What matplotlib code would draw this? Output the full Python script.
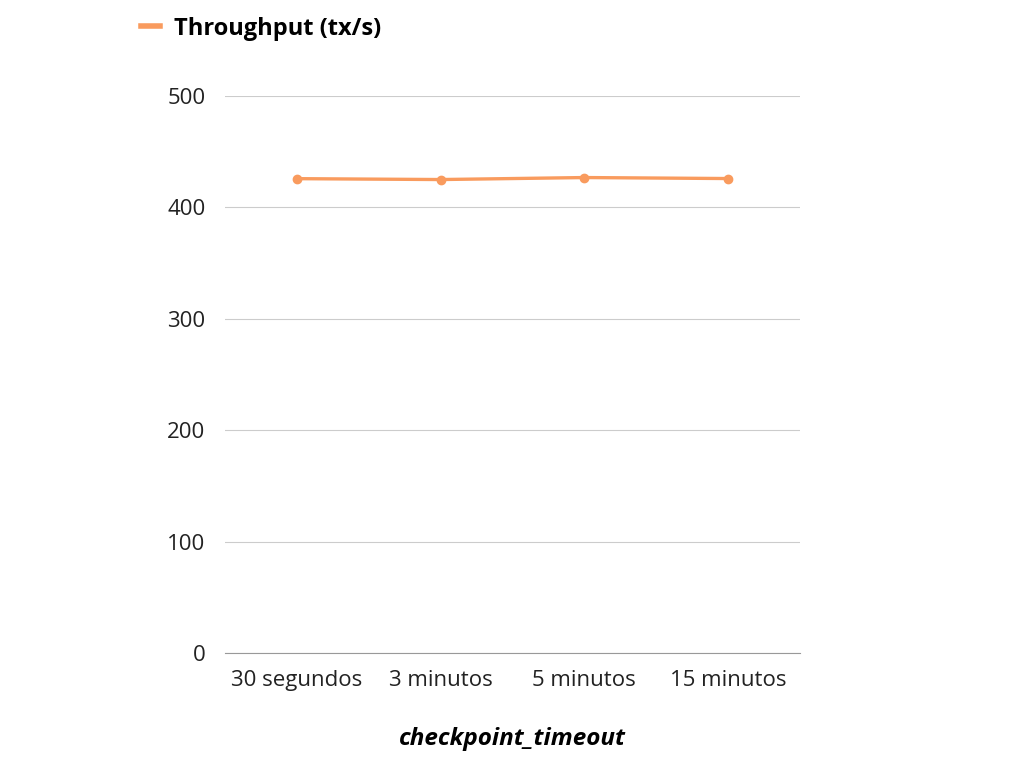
import matplotlib
matplotlib.use("Agg")
import matplotlib.pyplot as plt

categories = ["30 segundos", "3 minutos", "5 minutos", "15 minutos"]
throughput = [425.8, 425.0, 426.8, 425.9]
yticks = [0, 100, 200, 300, 400, 500]

plt.rcParams['font.family'] = ['Open Sans', 'DejaVu Sans']
fig = plt.figure(figsize=(10.24, 7.68), dpi=100)
ax = fig.add_axes([225/1024, 1-653/768, 575/1024, 557/768])
color = "#F99B5E"
x = range(len(categories))
ax.plot(x, throughput, color=color, lw=2.4, marker='o', ms=6, label="Throughput (tx/s)")
ax.set_xlim(-0.5, 3.5)
ax.set_ylim(0, 500)
ax.set_yticks(yticks)
ax.set_xticks(list(x))
ax.set_xticklabels(categories)
ax.grid(axis='y', color='#cccccc', lw=0.8)
ax.set_axisbelow(True)
for s in ['top', 'right', 'left']:
    ax.spines[s].set_visible(False)
ax.spines['bottom'].set_color('#999999')
ax.tick_params(axis='both', length=0, labelsize=16, colors='#222222')
ax.tick_params(axis='y', pad=14)
ax.tick_params(axis='x', pad=12)
ax.set_xlabel("checkpoint_timeout", fontsize=17.5, fontweight='bold', style='italic', labelpad=26)
leg = ax.legend(loc='lower left', bbox_to_anchor=(120/1024, 1-62/768), bbox_transform=fig.transFigure,
                frameon=False, prop={'weight': 'bold', 'size': 17}, handlelength=0.8, handletextpad=0.6)
for h in leg.get_lines():
    h.set_marker('')
    h.set_linewidth(4)
fig.savefig("out.png", dpi=100)
